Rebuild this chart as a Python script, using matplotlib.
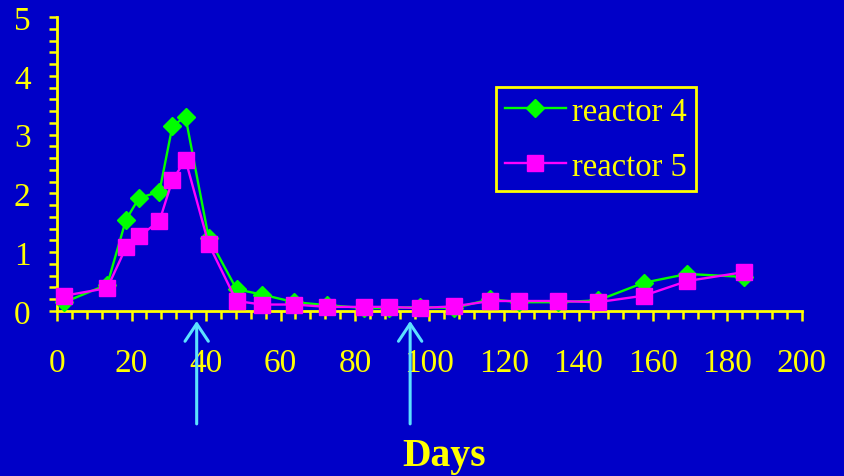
import matplotlib
matplotlib.use("Agg")
import matplotlib.pyplot as plt
from matplotlib.ticker import MultipleLocator

# Sampling days and measured values for the two reactors
days = [2, 13.5, 18.5, 22, 27.5, 31, 34.5, 40.7, 48.2, 55, 63.7, 72.4,
        82.5, 89, 97.5, 106.7, 116.3, 124, 134.5, 145.2, 157.5, 169.2, 184.3]
reactor4 = [0.15, 0.45, 1.55, 1.92, 2.03, 3.15, 3.3, 1.25, 0.37, 0.28, 0.15, 0.1,
            0.05, 0.05, 0.07, 0.05, 0.2, 0.15, 0.15, 0.18, 0.48, 0.63, 0.58]
reactor5 = [0.26, 0.39, 1.08, 1.27, 1.53, 2.23, 2.57, 1.14, 0.17, 0.11, 0.11, 0.07,
            0.07, 0.07, 0.05, 0.08, 0.17, 0.17, 0.17, 0.15, 0.26, 0.51, 0.66]
series_labels = ["reactor 4", "reactor 5"]
arrow_days = [37.5, 94.8]
x_label = "Days"

BG = "#0000C8"
YELLOW = "#FFFF00"
GREEN = "#00FF00"
MAGENTA = "#FF00FF"
CYAN = "#5CE1FF"

plt.rcParams["font.family"] = ["Liberation Serif", "DejaVu Serif"]

fig = plt.figure(figsize=(8.45, 4.77), dpi=100, facecolor=BG)
ax = fig.add_axes([57 / 845, 1 - 312 / 477, (802 - 57) / 845, (312 - 18) / 477])
ax.set_facecolor(BG)

ax.plot(days, reactor4, color=GREEN, lw=1.7, marker="D", ms=9.5,
        mec=GREEN, mfc=GREEN, label=series_labels[0], zorder=3, clip_on=False)
ax.plot(days, reactor5, color=MAGENTA, lw=1.7, marker="s", ms=11.5,
        mec=MAGENTA, mfc=MAGENTA, label=series_labels[1], zorder=4, clip_on=False)

ax.set_xlim(0, 200)
ax.set_ylim(0, 5)

for side in ("top", "right"):
    ax.spines[side].set_visible(False)
for side in ("left", "bottom"):
    ax.spines[side].set_color(YELLOW)
    ax.spines[side].set_linewidth(2.0)

ax.xaxis.set_major_locator(MultipleLocator(20))
ax.xaxis.set_minor_locator(MultipleLocator(4))
ax.yaxis.set_major_locator(MultipleLocator(1))
ax.yaxis.set_minor_locator(MultipleLocator(0.2))

ax.tick_params(axis="x", which="major", direction="out", length=7.5, width=1.8,
               color=YELLOW, labelcolor=YELLOW, labelsize=24, pad=19)
ax.tick_params(axis="x", which="minor", direction="out", length=5.5, width=1.8,
               color=YELLOW)
ax.tick_params(axis="y", which="major", direction="out", length=6, width=1.8,
               color=YELLOW, labelcolor=YELLOW, labelsize=24, pad=13)
ax.tick_params(axis="y", which="minor", direction="out", length=6, width=1.8,
               color=YELLOW)

leg = ax.legend(loc="upper left", bbox_to_anchor=((496 - 57) / 745, 1 - (88 - 18) / 294),
                borderaxespad=0, frameon=True, fancybox=False, fontsize=23.5,
                handlelength=1.85, labelspacing=0.75, borderpad=0.28,
                handletextpad=0.2, labelcolor=YELLOW)
leg.get_frame().set_facecolor(BG)
leg.get_frame().set_edgecolor(YELLOW)
leg.get_frame().set_linewidth(2.0)
leg.get_frame().set_alpha(1)

# Upward arrows below the axis marking two events
for d in arrow_days:
    ax.annotate("", xy=(d, -0.034), xycoords=("data", "axes fraction"),
                xytext=(d, -0.384), textcoords=("data", "axes fraction"),
                arrowprops=dict(arrowstyle="->,head_length=0.9,head_width=0.6",
                                color=CYAN, lw=2.2, mutation_scale=14,
                                shrinkA=0, shrinkB=0),
                annotation_clip=False)

fig.text(444 / 845, 1 - 457 / 477, x_label, color=YELLOW, fontsize=28.5,
         fontweight="bold", ha="center", va="center")

fig.savefig("out.png", dpi=100, facecolor=BG)
